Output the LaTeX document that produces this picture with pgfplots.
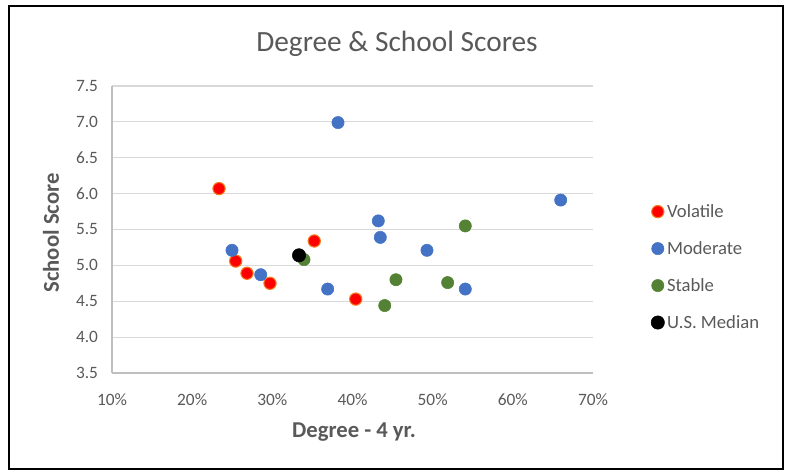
\documentclass[border=0pt]{standalone}
\usepackage{fontspec}
\setmainfont{Carlito}
\usepackage{pgfplots}
\pgfplotsset{compat=1.18}
\definecolor{txt}{HTML}{595959}
\definecolor{gridc}{HTML}{D9D9D9}
\definecolor{axisc}{HTML}{BFBFBF}
\definecolor{vol}{HTML}{FF0000}
\definecolor{volb}{HTML}{F47B20}
\definecolor{mod}{HTML}{4472C4}
\definecolor{stab}{HTML}{548235}
\begin{document}
\begin{tikzpicture}
\useasboundingbox (0,0) rectangle (592.5pt,352.5pt);
\draw[line width=1.5pt] (6.75pt,0.75pt) rectangle (587.25pt,348pt);
\begin{axis}[
  at={(84pt,72.75pt)}, anchor=south west,
  scale only axis, width=360.75pt, height=215.25pt,
  xmin=10, xmax=70, ymin=3.5, ymax=7.5,
  xtick={10,20,30,40,50,60,70},
  xticklabels={10\%,20\%,30\%,40\%,50\%,60\%,70\%},
  ytick={3.5,4,4.5,5,5.5,6,6.5,7,7.5},
  /pgf/number format/assume math mode=true,
  yticklabel style={/pgf/number format/fixed,/pgf/number format/fixed zerofill,/pgf/number format/precision=1,xshift=-7pt},
  xticklabel style={yshift=-12pt},
  ticklabel style={font=\fontsize{13}{15}\selectfont, text=txt},
  major tick length=0pt,
  axis lines*=left,
  axis line style={axisc, line width=0.9pt},
  ymajorgrids, grid style={gridc, line width=0.9pt},
  clip=false,
  legend style={at={(1.112,0.369)}, anchor=west, draw=none, fill=none,
    font=\fontsize{14}{16}\selectfont, text=txt, row sep=12.5pt,
    legend cell align=left},
  legend image code/.code={\draw[mark repeat=1,#1] plot coordinates {(0pt,0pt)};},
]
\addplot[only marks, mark=*, mark size=4.6pt, mark options={fill=vol, draw=volb, line width=0.8pt}] coordinates {
(23.35,6.07) (25.43,5.06) (26.84,4.89) (29.71,4.75) (35.23,5.34) (40.40,4.53)};
\addlegendentry{Volatile}
\addplot[only marks, mark=*, mark size=4.6pt, mark options={fill=mod, draw=mod}] coordinates {
(38.19,6.99) (24.97,5.21) (28.55,4.87) (36.90,4.67) (43.22,5.62) (43.47,5.39) (49.29,5.21) (54.07,4.67) (65.97,5.91)};
\addlegendentry{Moderate}
\addplot[only marks, mark=*, mark size=4.6pt, mark options={fill=stab, draw=stab}] coordinates {
(33.95,5.08) (45.42,4.80) (44.02,4.44) (51.87,4.76) (54.07,5.55)};
\addlegendentry{Stable}
\addplot[only marks, mark=*, mark size=5pt, mark options={fill=black, draw=black}] coordinates {
(33.33,5.14)};
\addlegendentry{U.S. Median}
\end{axis}
\node[text=txt, font=\fontsize{22}{26}\selectfont] at (297.75pt,319.5pt) {Degree \& School Scores};
\node[text=txt, font=\fontsize{17}{20}\selectfont\bfseries, rotate=90] at (38.25pt,177.75pt) {School Score};
\node[text=txt, font=\fontsize{17}{20}\selectfont\bfseries] at (265.5pt,28.5pt) {Degree - 4 yr.};
\end{tikzpicture}
\end{document}
